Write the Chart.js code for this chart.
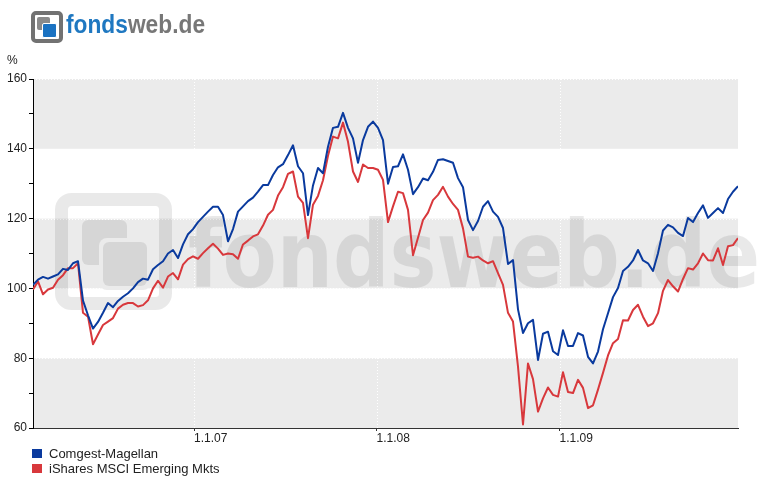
<!DOCTYPE html>
<html>
<head>
<meta charset="utf-8">
<title>fondsweb.de chart</title>
<script src="https://cdn.jsdelivr.net/npm/chart.js@4.4.0/dist/chart.umd.min.js"></script>
<style>
body { margin: 0; background: #fff; font-family: "Liberation Sans", Arial, sans-serif; }
#wrap { position: relative; width: 770px; height: 477px; overflow: hidden; }
#chart { position: absolute; left: 0; top: 0; }
.logo-frame { position: absolute; left: 31px; top: 11px; width: 24px; height: 24px; border: 4px solid #727272; border-radius: 5px; background: #fff; }
.logo-sq1 { position: absolute; left: 37px; top: 17px; width: 13px; height: 13px; background: #8a8a8a; border-radius: 2px; }
.logo-sq2 { position: absolute; left: 42px; top: 23px; width: 13px; height: 13px; background: #1a72c2; border: 1px solid #fff; border-radius: 2px; }
.logo-text { position: absolute; left: 66px; top: 9px; font: bold 26px "Liberation Sans", Arial, sans-serif; line-height: 30px; transform: scaleX(0.875); transform-origin: left top; white-space: nowrap; }
.logo-text .a { color: #1f78c1; }
.logo-text .b { color: #777; }
.unit { position: absolute; left: 7px; top: 54px; font-size: 12px; line-height: 12px; color: #222; }
.leg { position: absolute; left: 49px; font-size: 13px; line-height: 13px; color: #222; white-space: nowrap; }
.leg i { position: absolute; left: -17px; top: 2px; width: 10px; height: 9px; }
</style>
</head>
<body>
<div id="wrap">
  <canvas id="chart" width="770" height="477"></canvas>
  <div class="logo-frame"></div>
  <div class="logo-sq1"></div>
  <div class="logo-sq2"></div>
  <div class="logo-text"><span class="a">fonds</span><span class="b">web.de</span></div>
  <div class="unit">%</div>
  <div class="leg" style="top:447px"><i style="background:#0a3a9e"></i>Comgest-Magellan</div>
  <div class="leg" style="top:462px"><i style="background:#d8383c"></i>iShares MSCI Emerging Mkts</div>
</div>
<script>
// values are indexed to 100, one reading every 10 days starting mid-Feb 2006
const startDay = 43;      // days after 1.1.2006
const stepDays = 10;
const endDay = 1453;

const comgest = [
  101, 102.5, 103.3, 102.8, 103.4, 104, 105.6, 105.3, 107.2, 107.8,
  96.5, 92.3, 88.5, 90.4, 93, 95.8, 94.6, 96.4, 97.6, 98.6,
  100, 101.8, 102.8, 102.5, 105.5, 106.7, 107.8, 110, 111, 108.7,
  112.6, 115.5, 117, 119, 120.5, 122, 123.4, 123.4, 121, 113.5,
  117, 122, 123.5, 125, 126, 127.7, 129.6, 129.6, 132.5, 134.7,
  135.6, 138.2, 141, 135, 133, 121, 129.5, 134.5, 133, 140.6,
  146, 146.3, 150.3, 146, 143, 136, 142.5, 146.3, 147.8, 146,
  142.5, 130, 134.8, 135, 138.4, 134, 127, 129, 131.5, 131,
  133.4, 136.8, 137, 136.5, 136, 131.6, 129, 119.6, 116.7, 119.3,
  123.4, 125, 122, 120.5, 117.3, 107, 108.1, 94, 87.2, 90,
  91, 79.5, 87, 87.6, 82, 80.9, 88, 83.5, 83.5, 87.2,
  86.5, 80.4, 78.5, 81.9, 88.3, 92.9, 97.5, 100.1, 105, 106.2,
  108, 111, 108, 107.2, 105, 110.1, 116.6, 118.2, 117.5, 115.9,
  115, 120.2, 119, 121.6, 123.8, 120.2, 121.6, 123, 121.6, 125.6,
  127.7, 129.3
];

const ishares = [
  99.7, 102, 98.3, 99.7, 100.2, 102.5, 103.8, 105.8, 105.8, 107.2,
  93, 91.9, 84, 86.8, 89.5, 90.5, 91.5, 94.2, 95.3, 95.8,
  95.8, 94.8, 95.2, 96.6, 100, 102.2, 100.2, 103.4, 104.4, 102.6,
  106.8, 108.4, 109.2, 108.5, 110.1, 111.5, 112.8, 111.4, 109.6, 110,
  109.8, 108.5, 112.6, 113.7, 114.9, 115.5, 118, 121.1, 122.5, 126.6,
  129, 132.8, 133.5, 126.3, 124.5, 114.4, 124, 126.5, 131, 138,
  143.5, 143, 147.5, 142, 133.5, 130.5, 135.5, 134.5, 134.5, 134,
  131.1, 119, 123.5, 127.7, 127.3, 122.5, 109.5, 114.5, 119.6, 121.7,
  125.3, 126.8, 129.1, 126.3, 124.2, 122.5, 117.2, 109.1, 108.8, 109.1,
  108, 107.2, 107.8, 104.4, 101, 93, 90.5, 77.6, 61, 78.5,
  74, 64.7, 68.5, 71.6, 69.5, 69, 76, 70.3, 70, 73.8,
  71.5, 65.7, 66.5, 71, 75.8, 80.8, 84.3, 85.5, 90.9, 90.8,
  93.8, 95.3, 91.9, 89.2, 90, 92.9, 99.3, 102.4, 100.6, 99.1,
  102.7, 105.8, 105.4, 107.2, 110, 108.1, 108, 111.5, 106.7, 112.1,
  112.4, 114.4
];

const seriesNames = ['Comgest-Magellan', 'iShares MSCI Emerging Mkts'];
const tickDays = [365, 730, 1096];
const tickLabels = ['1.1.07', '1.1.08', '1.1.09'];
const bandRanges = [[60, 80], [100, 120], [140, 160]];
const gridLevels = [80, 100, 120, 140, 160];

function toPoints(values) {
  return values.map((v, i) => ({ x: startDay + i * stepDays, y: v }));
}

function roundRect(ctx, x, y, w, h, r) {
  ctx.beginPath();
  ctx.moveTo(x + r, y);
  ctx.arcTo(x + w, y, x + w, y + h, r);
  ctx.arcTo(x + w, y + h, x, y + h, r);
  ctx.arcTo(x, y + h, x, y, r);
  ctx.arcTo(x, y, x + w, y, r);
  ctx.closePath();
}

// grey bands, dotted grid and the big watermark behind the lines
const backdrop = {
  id: 'backdrop',
  beforeDraw(chart) {
    const { ctx, chartArea: a, scales: { x, y } } = chart;
    ctx.save();
    ctx.fillStyle = '#ebebeb';
    bandRanges.forEach(([lo, hi]) => {
      const top = y.getPixelForValue(hi);
      const bot = y.getPixelForValue(lo);
      ctx.fillRect(a.left, top, a.right - a.left, bot - top);
    });

    ctx.strokeStyle = '#ffffff';
    ctx.lineWidth = 1;
    ctx.setLineDash([1, 2]);
    gridLevels.forEach(v => {
      const py = Math.round(y.getPixelForValue(v)) + 0.5;
      ctx.beginPath(); ctx.moveTo(a.left, py); ctx.lineTo(a.right, py); ctx.stroke();
    });
    tickDays.forEach(d => {
      const px = Math.round(x.getPixelForValue(d)) + 0.5;
      ctx.beginPath(); ctx.moveTo(px, a.top); ctx.lineTo(px, a.bottom); ctx.stroke();
    });
    ctx.setLineDash([]);

    // watermark
    const wm = 'rgba(0,0,0,0.085)';
    ctx.strokeStyle = wm;
    ctx.lineWidth = 13;
    roundRect(ctx, 61.5, 199.5, 104, 104, 10);
    ctx.stroke();
    ctx.fillStyle = wm;
    roundRect(ctx, 82, 220, 45, 45, 6);
    ctx.fill();
    ctx.fillStyle = '#ebebeb';
    roundRect(ctx, 99, 238, 52, 52, 8);
    ctx.fill();
    ctx.fillStyle = wm;
    roundRect(ctx, 103, 242, 44, 44, 6);
    ctx.fill();

    ctx.font = 'bold 92px "DejaVu Sans", sans-serif';
    ctx.textBaseline = 'alphabetic';
    ctx.textAlign = 'left';
    ctx.fillText('fondsweb.de', 188, 287, 572);
    ctx.restore();
  }
};

new Chart(document.getElementById('chart'), {
  type: 'line',
  data: {
    datasets: [{
      label: seriesNames[0],
      data: toPoints(comgest),
      borderColor: '#0a3a9e',
      borderWidth: 2,
      borderJoinStyle: 'round',
      pointRadius: 0,
      tension: 0
    }, {
      label: seriesNames[1],
      data: toPoints(ishares),
      borderColor: '#d8383c',
      borderWidth: 2,
      borderJoinStyle: 'round',
      pointRadius: 0,
      tension: 0
    }]
  },
  options: {
    responsive: false,
    animation: false,
    devicePixelRatio: 1,
    layout: { padding: { left: 0, top: 79, right: 32, bottom: 29 } },
    plugins: { legend: { display: false }, tooltip: { enabled: false } },
    scales: {
      x: {
        type: 'linear',
        min: startDay,
        max: endDay,
        afterBuildTicks: scale => { scale.ticks = tickDays.map(v => ({ value: v })); },
        afterFit: scale => { scale.height = 20; },
        grid: { drawOnChartArea: false, tickLength: 3, color: '#333' },
        border: { color: '#333', width: 1 },
        ticks: {
          align: 'start',
          padding: 0,
          maxRotation: 0,
          autoSkip: false,
          color: '#222',
          font: { family: '"Liberation Sans", Arial, sans-serif', size: 12 },
          callback: v => tickLabels[tickDays.indexOf(v)] || ''
        }
      },
      y: {
        min: 60,
        max: 160,
        afterFit: scale => { scale.width = 33; },
        grid: { drawOnChartArea: false, tickLength: 4, color: '#000' },
        border: { color: '#000', width: 1 },
        ticks: {
          stepSize: 10,
          padding: 2,
          color: '#222',
          font: { family: '"Liberation Sans", Arial, sans-serif', size: 12 },
          callback: v => (v % 20 === 0 ? v : '')
        }
      }
    }
  },
  plugins: [backdrop]
});
</script>
</body>
</html>
